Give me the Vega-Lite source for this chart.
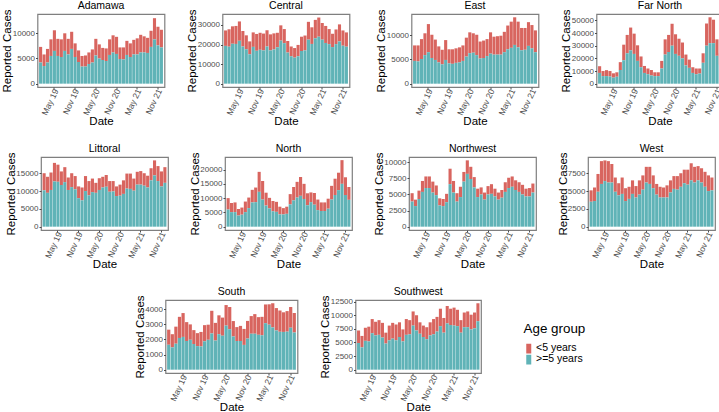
{"$schema":"https://vega.github.io/schema/vega-lite/v6.json","padding":{"left":0.5,"top":0,"right":0,"bottom":0},"background":"white",
"config":{"font":"Liberation Sans","view":{"stroke":"#7f7f7f","strokeWidth":1.2},"scale":{"bandPaddingInner":0.1,"bandPaddingOuter":0.45},"range":{"category":["#D8655F","#60B3B7"]},
"axis":{"grid":false,"domain":false,"labelColor":"#4D4D4D","labelFontSize":8,"tickColor":"#4D4D4D","tickSize":2,"labelPadding":1,"titleFontSize":11.5,"titleFontWeight":"normal","titleColor":"black","labelOverlap":false,"labelFlush":false},
"axisX":{"labelAngle":-65,"titlePadding":-1,"labelFontSize":8.5,"labelOffset":1.5,"labelPadding":0},"axisY":{"titlePadding":0},
"title":{"fontSize":10.5,"fontWeight":"normal","offset":-3,"color":"black"},
"legend":{"orient":"none","legendX":486,"legendY":308,"titleFontSize":13.4,"titleFontWeight":"normal","titleColor":"black","labelFontSize":10.5,"labelColor":"black","symbolType":"M-0.5,-1H0.5V1H-0.5Z","symbolSize":100,"symbolStrokeWidth":0,"rowPadding":0,"titlePadding":8,"labelOffset":2,"padding":0,"clipHeight":10}},
"spacing":15,
"datasets":{
"Adamawa":[{"date":"Jan 19","age":"<5 years","n":3100},{"date":"Jan 19","age":">=5 years","n":4200},{"date":"Feb 19","age":"<5 years","n":2300},{"date":"Feb 19","age":">=5 years","n":3500},{"date":"Mar 19","age":"<5 years","n":2700},{"date":"Mar 19","age":">=5 years","n":4200},{"date":"Apr 19","age":"<5 years","n":3300},{"date":"Apr 19","age":">=5 years","n":5500},{"date":"May 19","age":"<5 years","n":4100},{"date":"May 19","age":">=5 years","n":6500},{"date":"Jun 19","age":"<5 years","n":3400},{"date":"Jun 19","age":">=5 years","n":5500},{"date":"Jul 19","age":"<5 years","n":3500},{"date":"Jul 19","age":">=5 years","n":5300},{"date":"Aug 19","age":"<5 years","n":3500},{"date":"Aug 19","age":">=5 years","n":6500},{"date":"Sep 19","age":"<5 years","n":3100},{"date":"Sep 19","age":">=5 years","n":5800},{"date":"Oct 19","age":"<5 years","n":3400},{"date":"Oct 19","age":">=5 years","n":6900},{"date":"Nov 19","age":"<5 years","n":2700},{"date":"Nov 19","age":">=5 years","n":5300},{"date":"Dec 19","age":"<5 years","n":2300},{"date":"Dec 19","age":">=5 years","n":4300},{"date":"Jan 20","age":"<5 years","n":2100},{"date":"Jan 20","age":">=5 years","n":3400},{"date":"Feb 20","age":"<5 years","n":2200},{"date":"Feb 20","age":">=5 years","n":3400},{"date":"Mar 20","age":"<5 years","n":2300},{"date":"Mar 20","age":">=5 years","n":3900},{"date":"Apr 20","age":"<5 years","n":2600},{"date":"Apr 20","age":">=5 years","n":4200},{"date":"May 20","age":"<5 years","n":3300},{"date":"May 20","age":">=5 years","n":5600},{"date":"Jun 20","age":"<5 years","n":2800},{"date":"Jun 20","age":">=5 years","n":5000},{"date":"Jul 20","age":"<5 years","n":2400},{"date":"Jul 20","age":">=5 years","n":4700},{"date":"Aug 20","age":"<5 years","n":2500},{"date":"Aug 20","age":">=5 years","n":4500},{"date":"Sep 20","age":"<5 years","n":3100},{"date":"Sep 20","age":">=5 years","n":5700},{"date":"Oct 20","age":"<5 years","n":3400},{"date":"Oct 20","age":">=5 years","n":6200},{"date":"Nov 20","age":"<5 years","n":3400},{"date":"Nov 20","age":">=5 years","n":5900},{"date":"Dec 20","age":"<5 years","n":2300},{"date":"Dec 20","age":">=5 years","n":4900},{"date":"Jan 21","age":"<5 years","n":2400},{"date":"Jan 21","age":">=5 years","n":4800},{"date":"Feb 21","age":"<5 years","n":2800},{"date":"Feb 21","age":">=5 years","n":5700},{"date":"Mar 21","age":"<5 years","n":2700},{"date":"Mar 21","age":">=5 years","n":5300},{"date":"Apr 21","age":"<5 years","n":2900},{"date":"Apr 21","age":">=5 years","n":5800},{"date":"May 21","age":"<5 years","n":3200},{"date":"May 21","age":">=5 years","n":5800},{"date":"Jun 21","age":"<5 years","n":3500},{"date":"Jun 21","age":">=5 years","n":6200},{"date":"Jul 21","age":"<5 years","n":3200},{"date":"Jul 21","age":">=5 years","n":6200},{"date":"Aug 21","age":"<5 years","n":3000},{"date":"Aug 21","age":">=5 years","n":6100},{"date":"Sep 21","age":"<5 years","n":3200},{"date":"Sep 21","age":">=5 years","n":7300},{"date":"Oct 21","age":"<5 years","n":4200},{"date":"Oct 21","age":">=5 years","n":8800},{"date":"Nov 21","age":"<5 years","n":3700},{"date":"Nov 21","age":">=5 years","n":7600},{"date":"Dec 21","age":"<5 years","n":3500},{"date":"Dec 21","age":">=5 years","n":7200}],
"Central":[{"date":"Jan 19","age":"<5 years","n":7900},{"date":"Jan 19","age":">=5 years","n":19300},{"date":"Feb 19","age":"<5 years","n":8900},{"date":"Feb 19","age":">=5 years","n":18900},{"date":"Mar 19","age":"<5 years","n":8900},{"date":"Mar 19","age":">=5 years","n":20400},{"date":"Apr 19","age":"<5 years","n":9200},{"date":"Apr 19","age":">=5 years","n":20300},{"date":"May 19","age":"<5 years","n":9900},{"date":"May 19","age":">=5 years","n":21900},{"date":"Jun 19","age":"<5 years","n":7900},{"date":"Jun 19","age":">=5 years","n":19000},{"date":"Jul 19","age":"<5 years","n":7100},{"date":"Jul 19","age":">=5 years","n":17600},{"date":"Aug 19","age":"<5 years","n":6600},{"date":"Aug 19","age":">=5 years","n":15000},{"date":"Sep 19","age":"<5 years","n":7400},{"date":"Sep 19","age":">=5 years","n":18800},{"date":"Oct 19","age":"<5 years","n":8600},{"date":"Oct 19","age":">=5 years","n":16800},{"date":"Nov 19","age":"<5 years","n":8700},{"date":"Nov 19","age":">=5 years","n":17300},{"date":"Dec 19","age":"<5 years","n":8600},{"date":"Dec 19","age":">=5 years","n":17000},{"date":"Jan 20","age":"<5 years","n":8300},{"date":"Jan 20","age":">=5 years","n":19000},{"date":"Feb 20","age":"<5 years","n":8200},{"date":"Feb 20","age":">=5 years","n":17000},{"date":"Mar 20","age":"<5 years","n":8200},{"date":"Mar 20","age":">=5 years","n":17500},{"date":"Apr 20","age":"<5 years","n":7400},{"date":"Apr 20","age":">=5 years","n":18600},{"date":"May 20","age":"<5 years","n":7800},{"date":"May 20","age":">=5 years","n":22000},{"date":"Jun 20","age":"<5 years","n":7200},{"date":"Jun 20","age":">=5 years","n":20700},{"date":"Jul 20","age":"<5 years","n":5900},{"date":"Jul 20","age":">=5 years","n":15900},{"date":"Aug 20","age":"<5 years","n":5000},{"date":"Aug 20","age":">=5 years","n":14000},{"date":"Sep 20","age":"<5 years","n":4900},{"date":"Sep 20","age":">=5 years","n":13300},{"date":"Oct 20","age":"<5 years","n":5800},{"date":"Oct 20","age":">=5 years","n":14000},{"date":"Nov 20","age":"<5 years","n":7300},{"date":"Nov 20","age":">=5 years","n":16700},{"date":"Dec 20","age":"<5 years","n":7600},{"date":"Dec 20","age":">=5 years","n":17000},{"date":"Jan 21","age":"<5 years","n":9100},{"date":"Jan 21","age":">=5 years","n":22500},{"date":"Feb 21","age":"<5 years","n":8500},{"date":"Feb 21","age":">=5 years","n":20300},{"date":"Mar 21","age":"<5 years","n":9400},{"date":"Mar 21","age":">=5 years","n":23200},{"date":"Apr 21","age":"<5 years","n":9800},{"date":"Apr 21","age":">=5 years","n":24000},{"date":"May 21","age":"<5 years","n":8500},{"date":"May 21","age":">=5 years","n":22500},{"date":"Jun 21","age":"<5 years","n":8700},{"date":"Jun 21","age":">=5 years","n":20800},{"date":"Jul 21","age":"<5 years","n":7700},{"date":"Jul 21","age":">=5 years","n":20200},{"date":"Aug 21","age":"<5 years","n":6800},{"date":"Aug 21","age":">=5 years","n":18700},{"date":"Sep 21","age":"<5 years","n":7500},{"date":"Sep 21","age":">=5 years","n":20200},{"date":"Oct 21","age":"<5 years","n":8700},{"date":"Oct 21","age":">=5 years","n":21600},{"date":"Nov 21","age":"<5 years","n":7800},{"date":"Nov 21","age":">=5 years","n":19400},{"date":"Dec 21","age":"<5 years","n":7300},{"date":"Dec 21","age":">=5 years","n":18900}],
"East":[{"date":"Jan 19","age":"<5 years","n":3200},{"date":"Jan 19","age":">=5 years","n":4700},{"date":"Feb 19","age":"<5 years","n":3300},{"date":"Feb 19","age":">=5 years","n":4600},{"date":"Mar 19","age":"<5 years","n":4100},{"date":"Mar 19","age":">=5 years","n":5100},{"date":"Apr 19","age":"<5 years","n":4500},{"date":"Apr 19","age":">=5 years","n":5900},{"date":"May 19","age":"<5 years","n":5800},{"date":"May 19","age":">=5 years","n":6500},{"date":"Jun 19","age":"<5 years","n":4800},{"date":"Jun 19","age":">=5 years","n":5300},{"date":"Jul 19","age":"<5 years","n":4200},{"date":"Jul 19","age":">=5 years","n":4900},{"date":"Aug 19","age":"<5 years","n":3300},{"date":"Aug 19","age":">=5 years","n":4400},{"date":"Sep 19","age":"<5 years","n":3000},{"date":"Sep 19","age":">=5 years","n":4000},{"date":"Oct 19","age":"<5 years","n":4100},{"date":"Oct 19","age":">=5 years","n":4900},{"date":"Nov 19","age":"<5 years","n":2900},{"date":"Nov 19","age":">=5 years","n":4200},{"date":"Dec 19","age":"<5 years","n":3000},{"date":"Dec 19","age":">=5 years","n":4100},{"date":"Jan 20","age":"<5 years","n":3000},{"date":"Jan 20","age":">=5 years","n":4300},{"date":"Feb 20","age":"<5 years","n":3100},{"date":"Feb 20","age":">=5 years","n":4400},{"date":"Mar 20","age":"<5 years","n":3200},{"date":"Mar 20","age":">=5 years","n":4700},{"date":"Apr 20","age":"<5 years","n":3900},{"date":"Apr 20","age":">=5 years","n":5600},{"date":"May 20","age":"<5 years","n":4300},{"date":"May 20","age":">=5 years","n":6300},{"date":"Jun 20","age":"<5 years","n":4000},{"date":"Jun 20","age":">=5 years","n":6400},{"date":"Jul 20","age":"<5 years","n":4200},{"date":"Jul 20","age":">=5 years","n":5900},{"date":"Aug 20","age":"<5 years","n":3500},{"date":"Aug 20","age":">=5 years","n":5200},{"date":"Sep 20","age":"<5 years","n":3600},{"date":"Sep 20","age":">=5 years","n":5300},{"date":"Oct 20","age":"<5 years","n":3500},{"date":"Oct 20","age":">=5 years","n":5700},{"date":"Nov 20","age":"<5 years","n":4400},{"date":"Nov 20","age":">=5 years","n":6200},{"date":"Dec 20","age":"<5 years","n":3700},{"date":"Dec 20","age":">=5 years","n":6000},{"date":"Jan 21","age":"<5 years","n":3800},{"date":"Jan 21","age":">=5 years","n":6000},{"date":"Feb 21","age":"<5 years","n":3900},{"date":"Feb 21","age":">=5 years","n":6000},{"date":"Mar 21","age":"<5 years","n":4200},{"date":"Mar 21","age":">=5 years","n":6500},{"date":"Apr 21","age":"<5 years","n":4900},{"date":"Apr 21","age":">=5 years","n":7100},{"date":"May 21","age":"<5 years","n":5400},{"date":"May 21","age":">=5 years","n":7400},{"date":"Jun 21","age":"<5 years","n":5700},{"date":"Jun 21","age":">=5 years","n":8000},{"date":"Jul 21","age":"<5 years","n":5300},{"date":"Jul 21","age":">=5 years","n":7500},{"date":"Aug 21","age":"<5 years","n":4600},{"date":"Aug 21","age":">=5 years","n":6900},{"date":"Sep 21","age":"<5 years","n":4500},{"date":"Sep 21","age":">=5 years","n":7000},{"date":"Oct 21","age":"<5 years","n":4900},{"date":"Oct 21","age":">=5 years","n":7800},{"date":"Nov 21","age":"<5 years","n":4800},{"date":"Nov 21","age":">=5 years","n":7300},{"date":"Dec 21","age":"<5 years","n":4500},{"date":"Dec 21","age":">=5 years","n":6500}],
"Far North":[{"date":"Jan 19","age":"<5 years","n":5300},{"date":"Jan 19","age":">=5 years","n":8500},{"date":"Feb 19","age":"<5 years","n":4000},{"date":"Feb 19","age":">=5 years","n":6000},{"date":"Mar 19","age":"<5 years","n":4700},{"date":"Mar 19","age":">=5 years","n":6000},{"date":"Apr 19","age":"<5 years","n":4300},{"date":"Apr 19","age":">=5 years","n":5700},{"date":"May 19","age":"<5 years","n":3400},{"date":"May 19","age":">=5 years","n":4800},{"date":"Jun 19","age":"<5 years","n":3500},{"date":"Jun 19","age":">=5 years","n":5500},{"date":"Jul 19","age":"<5 years","n":6200},{"date":"Jul 19","age":">=5 years","n":10800},{"date":"Aug 19","age":"<5 years","n":12300},{"date":"Aug 19","age":">=5 years","n":18500},{"date":"Sep 19","age":"<5 years","n":14500},{"date":"Sep 19","age":">=5 years","n":24000},{"date":"Oct 19","age":"<5 years","n":18000},{"date":"Oct 19","age":">=5 years","n":26300},{"date":"Nov 19","age":"<5 years","n":16000},{"date":"Nov 19","age":">=5 years","n":23500},{"date":"Dec 19","age":"<5 years","n":12300},{"date":"Dec 19","age":">=5 years","n":18000},{"date":"Jan 20","age":"<5 years","n":8500},{"date":"Jan 20","age":">=5 years","n":13000},{"date":"Feb 20","age":"<5 years","n":5500},{"date":"Feb 20","age":">=5 years","n":8500},{"date":"Mar 20","age":"<5 years","n":4500},{"date":"Mar 20","age":">=5 years","n":7500},{"date":"Apr 20","age":"<5 years","n":4300},{"date":"Apr 20","age":">=5 years","n":6500},{"date":"May 20","age":"<5 years","n":3000},{"date":"May 20","age":">=5 years","n":6000},{"date":"Jun 20","age":"<5 years","n":3000},{"date":"Jun 20","age":">=5 years","n":6000},{"date":"Jul 20","age":"<5 years","n":6000},{"date":"Jul 20","age":">=5 years","n":12000},{"date":"Aug 20","age":"<5 years","n":12000},{"date":"Aug 20","age":">=5 years","n":23000},{"date":"Sep 20","age":"<5 years","n":13500},{"date":"Sep 20","age":">=5 years","n":25000},{"date":"Oct 20","age":"<5 years","n":17300},{"date":"Oct 20","age":">=5 years","n":30000},{"date":"Nov 20","age":"<5 years","n":15500},{"date":"Nov 20","age":">=5 years","n":23500},{"date":"Dec 20","age":"<5 years","n":13500},{"date":"Dec 20","age":">=5 years","n":22000},{"date":"Jan 21","age":"<5 years","n":12500},{"date":"Jan 21","age":">=5 years","n":20000},{"date":"Feb 21","age":"<5 years","n":8500},{"date":"Feb 21","age":">=5 years","n":14500},{"date":"Mar 21","age":"<5 years","n":6500},{"date":"Mar 21","age":">=5 years","n":12500},{"date":"Apr 21","age":"<5 years","n":4500},{"date":"Apr 21","age":">=5 years","n":8500},{"date":"May 21","age":"<5 years","n":4500},{"date":"May 21","age":">=5 years","n":7500},{"date":"Jun 21","age":"<5 years","n":4000},{"date":"Jun 21","age":">=5 years","n":8000},{"date":"Jul 21","age":"<5 years","n":7500},{"date":"Jul 21","age":">=5 years","n":16500},{"date":"Aug 21","age":"<5 years","n":17500},{"date":"Aug 21","age":">=5 years","n":30000},{"date":"Sep 21","age":"<5 years","n":20400},{"date":"Sep 21","age":">=5 years","n":32000},{"date":"Oct 21","age":"<5 years","n":18500},{"date":"Oct 21","age":">=5 years","n":32000},{"date":"Nov 21","age":"<5 years","n":13000},{"date":"Nov 21","age":">=5 years","n":22000},{"date":"Dec 21","age":"<5 years","n":9000},{"date":"Dec 21","age":">=5 years","n":15000}],
"Littoral":[{"date":"Jan 19","age":"<5 years","n":4800},{"date":"Jan 19","age":">=5 years","n":10200},{"date":"Feb 19","age":"<5 years","n":4500},{"date":"Feb 19","age":">=5 years","n":9500},{"date":"Mar 19","age":"<5 years","n":4900},{"date":"Mar 19","age":">=5 years","n":10300},{"date":"Apr 19","age":"<5 years","n":5200},{"date":"Apr 19","age":">=5 years","n":12700},{"date":"May 19","age":"<5 years","n":4800},{"date":"May 19","age":">=5 years","n":12600},{"date":"Jun 19","age":"<5 years","n":3800},{"date":"Jun 19","age":">=5 years","n":11700},{"date":"Jul 19","age":"<5 years","n":4200},{"date":"Jul 19","age":">=5 years","n":12500},{"date":"Aug 19","age":"<5 years","n":3500},{"date":"Aug 19","age":">=5 years","n":10300},{"date":"Sep 19","age":"<5 years","n":3900},{"date":"Sep 19","age":">=5 years","n":11100},{"date":"Oct 19","age":"<5 years","n":3700},{"date":"Oct 19","age":">=5 years","n":10500},{"date":"Nov 19","age":"<5 years","n":3300},{"date":"Nov 19","age":">=5 years","n":8000},{"date":"Dec 19","age":"<5 years","n":3600},{"date":"Dec 19","age":">=5 years","n":7400},{"date":"Jan 20","age":"<5 years","n":4200},{"date":"Jan 20","age":">=5 years","n":10000},{"date":"Feb 20","age":"<5 years","n":4000},{"date":"Feb 20","age":">=5 years","n":8800},{"date":"Mar 20","age":"<5 years","n":3800},{"date":"Mar 20","age":">=5 years","n":9700},{"date":"Apr 20","age":"<5 years","n":2800},{"date":"Apr 20","age":">=5 years","n":9500},{"date":"May 20","age":"<5 years","n":3300},{"date":"May 20","age":">=5 years","n":10300},{"date":"Jun 20","age":"<5 years","n":3000},{"date":"Jun 20","age":">=5 years","n":11000},{"date":"Jul 20","age":"<5 years","n":3300},{"date":"Jul 20","age":">=5 years","n":11200},{"date":"Aug 20","age":"<5 years","n":3000},{"date":"Aug 20","age":">=5 years","n":9800},{"date":"Sep 20","age":"<5 years","n":2900},{"date":"Sep 20","age":">=5 years","n":9900},{"date":"Oct 20","age":"<5 years","n":2700},{"date":"Oct 20","age":">=5 years","n":8600},{"date":"Nov 20","age":"<5 years","n":3100},{"date":"Nov 20","age":">=5 years","n":8700},{"date":"Dec 20","age":"<5 years","n":3800},{"date":"Dec 20","age":">=5 years","n":9200},{"date":"Jan 21","age":"<5 years","n":4200},{"date":"Jan 21","age":">=5 years","n":10700},{"date":"Feb 21","age":"<5 years","n":4300},{"date":"Feb 21","age":">=5 years","n":10600},{"date":"Mar 21","age":"<5 years","n":3400},{"date":"Mar 21","age":">=5 years","n":10100},{"date":"Apr 21","age":"<5 years","n":3600},{"date":"Apr 21","age":">=5 years","n":11800},{"date":"May 21","age":"<5 years","n":3800},{"date":"May 21","age":">=5 years","n":11800},{"date":"Jun 21","age":"<5 years","n":3500},{"date":"Jun 21","age":">=5 years","n":11500},{"date":"Jul 21","age":"<5 years","n":3300},{"date":"Jul 21","age":">=5 years","n":11000},{"date":"Aug 21","age":"<5 years","n":3400},{"date":"Aug 21","age":">=5 years","n":13000},{"date":"Sep 21","age":"<5 years","n":4200},{"date":"Sep 21","age":">=5 years","n":14400},{"date":"Oct 21","age":"<5 years","n":4200},{"date":"Oct 21","age":">=5 years","n":12800},{"date":"Nov 21","age":"<5 years","n":4200},{"date":"Nov 21","age":">=5 years","n":11300},{"date":"Dec 21","age":"<5 years","n":4400},{"date":"Dec 21","age":">=5 years","n":12300}],
"North":[{"date":"Jan 19","age":"<5 years","n":4000},{"date":"Jan 19","age":">=5 years","n":6000},{"date":"Feb 19","age":"<5 years","n":3200},{"date":"Feb 19","age":">=5 years","n":5100},{"date":"Mar 19","age":"<5 years","n":3400},{"date":"Mar 19","age":">=5 years","n":5100},{"date":"Apr 19","age":"<5 years","n":2300},{"date":"Apr 19","age":">=5 years","n":3900},{"date":"May 19","age":"<5 years","n":2500},{"date":"May 19","age":">=5 years","n":4200},{"date":"Jun 19","age":"<5 years","n":3700},{"date":"Jun 19","age":">=5 years","n":5100},{"date":"Jul 19","age":"<5 years","n":3700},{"date":"Jul 19","age":">=5 years","n":6500},{"date":"Aug 19","age":"<5 years","n":4400},{"date":"Aug 19","age":">=5 years","n":8500},{"date":"Sep 19","age":"<5 years","n":5100},{"date":"Sep 19","age":">=5 years","n":8600},{"date":"Oct 19","age":"<5 years","n":7000},{"date":"Oct 19","age":">=5 years","n":12200},{"date":"Nov 19","age":"<5 years","n":6500},{"date":"Nov 19","age":">=5 years","n":9500},{"date":"Dec 19","age":"<5 years","n":4500},{"date":"Dec 19","age":">=5 years","n":7400},{"date":"Jan 20","age":"<5 years","n":3700},{"date":"Jan 20","age":">=5 years","n":6400},{"date":"Feb 20","age":"<5 years","n":3600},{"date":"Feb 20","age":">=5 years","n":5400},{"date":"Mar 20","age":"<5 years","n":3500},{"date":"Mar 20","age":">=5 years","n":5200},{"date":"Apr 20","age":"<5 years","n":2700},{"date":"Apr 20","age":">=5 years","n":4300},{"date":"May 20","age":"<5 years","n":2200},{"date":"May 20","age":">=5 years","n":4300},{"date":"Jun 20","age":"<5 years","n":2500},{"date":"Jun 20","age":">=5 years","n":4500},{"date":"Jul 20","age":"<5 years","n":3600},{"date":"Jul 20","age":">=5 years","n":7800},{"date":"Aug 20","age":"<5 years","n":4700},{"date":"Aug 20","age":">=5 years","n":9200},{"date":"Sep 20","age":"<5 years","n":5500},{"date":"Sep 20","age":">=5 years","n":10200},{"date":"Oct 20","age":"<5 years","n":6600},{"date":"Oct 20","age":">=5 years","n":10800},{"date":"Nov 20","age":"<5 years","n":5300},{"date":"Nov 20","age":">=5 years","n":9700},{"date":"Dec 20","age":"<5 years","n":4200},{"date":"Dec 20","age":">=5 years","n":7500},{"date":"Jan 21","age":"<5 years","n":3400},{"date":"Jan 21","age":">=5 years","n":8600},{"date":"Feb 21","age":"<5 years","n":4100},{"date":"Feb 21","age":">=5 years","n":7700},{"date":"Mar 21","age":"<5 years","n":3700},{"date":"Mar 21","age":">=5 years","n":5800},{"date":"Apr 21","age":"<5 years","n":3000},{"date":"Apr 21","age":">=5 years","n":5500},{"date":"May 21","age":"<5 years","n":3000},{"date":"May 21","age":">=5 years","n":5500},{"date":"Jun 21","age":"<5 years","n":3500},{"date":"Jun 21","age":">=5 years","n":6300},{"date":"Jul 21","age":"<5 years","n":4800},{"date":"Jul 21","age":">=5 years","n":9500},{"date":"Aug 21","age":"<5 years","n":5700},{"date":"Aug 21","age":">=5 years","n":11100},{"date":"Sep 21","age":"<5 years","n":6100},{"date":"Sep 21","age":">=5 years","n":12800},{"date":"Oct 21","age":"<5 years","n":8300},{"date":"Oct 21","age":">=5 years","n":15000},{"date":"Nov 21","age":"<5 years","n":6200},{"date":"Nov 21","age":">=5 years","n":11100},{"date":"Dec 21","age":"<5 years","n":4500},{"date":"Dec 21","age":">=5 years","n":9400}],
"Northwest":[{"date":"Jan 19","age":"<5 years","n":1300},{"date":"Jan 19","age":">=5 years","n":3900},{"date":"Feb 19","age":"<5 years","n":1000},{"date":"Feb 19","age":">=5 years","n":3200},{"date":"Mar 19","age":"<5 years","n":1300},{"date":"Mar 19","age":">=5 years","n":4300},{"date":"Apr 19","age":"<5 years","n":1700},{"date":"Apr 19","age":">=5 years","n":5400},{"date":"May 19","age":"<5 years","n":1800},{"date":"May 19","age":">=5 years","n":6000},{"date":"Jun 19","age":"<5 years","n":1800},{"date":"Jun 19","age":">=5 years","n":6000},{"date":"Jul 19","age":"<5 years","n":1700},{"date":"Jul 19","age":">=5 years","n":5300},{"date":"Aug 19","age":"<5 years","n":1500},{"date":"Aug 19","age":">=5 years","n":4900},{"date":"Sep 19","age":"<5 years","n":1100},{"date":"Sep 19","age":">=5 years","n":3300},{"date":"Oct 19","age":"<5 years","n":1100},{"date":"Oct 19","age":">=5 years","n":3200},{"date":"Nov 19","age":"<5 years","n":1300},{"date":"Nov 19","age":">=5 years","n":3800},{"date":"Dec 19","age":"<5 years","n":2400},{"date":"Dec 19","age":">=5 years","n":6600},{"date":"Jan 20","age":"<5 years","n":1800},{"date":"Jan 20","age":">=5 years","n":5300},{"date":"Feb 20","age":"<5 years","n":1300},{"date":"Feb 20","age":">=5 years","n":3900},{"date":"Mar 20","age":"<5 years","n":1600},{"date":"Mar 20","age":">=5 years","n":4600},{"date":"Apr 20","age":"<5 years","n":1500},{"date":"Apr 20","age":">=5 years","n":7000},{"date":"May 20","age":"<5 years","n":2100},{"date":"May 20","age":">=5 years","n":8200},{"date":"Jun 20","age":"<5 years","n":1900},{"date":"Jun 20","age":">=5 years","n":7400},{"date":"Jul 20","age":"<5 years","n":1600},{"date":"Jul 20","age":">=5 years","n":6100},{"date":"Aug 20","age":"<5 years","n":1300},{"date":"Aug 20","age":">=5 years","n":4600},{"date":"Sep 20","age":"<5 years","n":1100},{"date":"Sep 20","age":">=5 years","n":5000},{"date":"Oct 20","age":"<5 years","n":1100},{"date":"Oct 20","age":">=5 years","n":4200},{"date":"Nov 20","age":"<5 years","n":1300},{"date":"Nov 20","age":">=5 years","n":5000},{"date":"Dec 20","age":"<5 years","n":1500},{"date":"Dec 20","age":">=5 years","n":5100},{"date":"Jan 21","age":"<5 years","n":1200},{"date":"Jan 21","age":">=5 years","n":4700},{"date":"Feb 21","age":"<5 years","n":1100},{"date":"Feb 21","age":">=5 years","n":4200},{"date":"Mar 21","age":"<5 years","n":1200},{"date":"Mar 21","age":">=5 years","n":4500},{"date":"Apr 21","age":"<5 years","n":1500},{"date":"Apr 21","age":">=5 years","n":5400},{"date":"May 21","age":"<5 years","n":1600},{"date":"May 21","age":">=5 years","n":6000},{"date":"Jun 21","age":"<5 years","n":1600},{"date":"Jun 21","age":">=5 years","n":6200},{"date":"Jul 21","age":"<5 years","n":1500},{"date":"Jul 21","age":">=5 years","n":5700},{"date":"Aug 21","age":"<5 years","n":1500},{"date":"Aug 21","age":">=5 years","n":5400},{"date":"Sep 21","age":"<5 years","n":1500},{"date":"Sep 21","age":">=5 years","n":5000},{"date":"Oct 21","age":"<5 years","n":1200},{"date":"Oct 21","age":">=5 years","n":4700},{"date":"Nov 21","age":"<5 years","n":1300},{"date":"Nov 21","age":">=5 years","n":4700},{"date":"Dec 21","age":"<5 years","n":1400},{"date":"Dec 21","age":">=5 years","n":5300}],
"West":[{"date":"Jan 19","age":"<5 years","n":1600},{"date":"Jan 19","age":">=5 years","n":3500},{"date":"Feb 19","age":"<5 years","n":1900},{"date":"Feb 19","age":">=5 years","n":3600},{"date":"Mar 19","age":"<5 years","n":2500},{"date":"Mar 19","age":">=5 years","n":4900},{"date":"Apr 19","age":"<5 years","n":3200},{"date":"Apr 19","age":">=5 years","n":6000},{"date":"May 19","age":"<5 years","n":2900},{"date":"May 19","age":">=5 years","n":6400},{"date":"Jun 19","age":"<5 years","n":3000},{"date":"Jun 19","age":">=5 years","n":6200},{"date":"Jul 19","age":"<5 years","n":2600},{"date":"Jul 19","age":">=5 years","n":6200},{"date":"Aug 19","age":"<5 years","n":2000},{"date":"Aug 19","age":">=5 years","n":4900},{"date":"Sep 19","age":"<5 years","n":1700},{"date":"Sep 19","age":">=5 years","n":4400},{"date":"Oct 19","age":"<5 years","n":2300},{"date":"Oct 19","age":">=5 years","n":4600},{"date":"Nov 19","age":"<5 years","n":1800},{"date":"Nov 19","age":">=5 years","n":3600},{"date":"Dec 19","age":"<5 years","n":1700},{"date":"Dec 19","age":">=5 years","n":3900},{"date":"Jan 20","age":"<5 years","n":1900},{"date":"Jan 20","age":">=5 years","n":4600},{"date":"Feb 20","age":"<5 years","n":1600},{"date":"Feb 20","age":">=5 years","n":4100},{"date":"Mar 20","age":"<5 years","n":2000},{"date":"Mar 20","age":">=5 years","n":4500},{"date":"Apr 20","age":"<5 years","n":2000},{"date":"Apr 20","age":">=5 years","n":5200},{"date":"May 20","age":"<5 years","n":2200},{"date":"May 20","age":">=5 years","n":6200},{"date":"Jun 20","age":"<5 years","n":2400},{"date":"Jun 20","age":">=5 years","n":6000},{"date":"Jul 20","age":"<5 years","n":1800},{"date":"Jul 20","age":">=5 years","n":5400},{"date":"Aug 20","age":"<5 years","n":1500},{"date":"Aug 20","age":">=5 years","n":4500},{"date":"Sep 20","age":"<5 years","n":1500},{"date":"Sep 20","age":">=5 years","n":4100},{"date":"Oct 20","age":"<5 years","n":1400},{"date":"Oct 20","age":">=5 years","n":4100},{"date":"Nov 20","age":"<5 years","n":1700},{"date":"Nov 20","age":">=5 years","n":4100},{"date":"Dec 20","age":"<5 years","n":1700},{"date":"Dec 20","age":">=5 years","n":4800},{"date":"Jan 21","age":"<5 years","n":1800},{"date":"Jan 21","age":">=5 years","n":5300},{"date":"Feb 21","age":"<5 years","n":1900},{"date":"Feb 21","age":">=5 years","n":5200},{"date":"Mar 21","age":"<5 years","n":1900},{"date":"Mar 21","age":">=5 years","n":5600},{"date":"Apr 21","age":"<5 years","n":1900},{"date":"Apr 21","age":">=5 years","n":6100},{"date":"May 21","age":"<5 years","n":2100},{"date":"May 21","age":">=5 years","n":5900},{"date":"Jun 21","age":"<5 years","n":2400},{"date":"Jun 21","age":">=5 years","n":6500},{"date":"Jul 21","age":"<5 years","n":2200},{"date":"Jul 21","age":">=5 years","n":6200},{"date":"Aug 21","age":"<5 years","n":2000},{"date":"Aug 21","age":">=5 years","n":6500},{"date":"Sep 21","age":"<5 years","n":2000},{"date":"Sep 21","age":">=5 years","n":6200},{"date":"Oct 21","age":"<5 years","n":2100},{"date":"Oct 21","age":">=5 years","n":5600},{"date":"Nov 21","age":"<5 years","n":2200},{"date":"Nov 21","age":">=5 years","n":5000},{"date":"Dec 21","age":"<5 years","n":1800},{"date":"Dec 21","age":">=5 years","n":5100}],
"South":[{"date":"Jan 19","age":"<5 years","n":1000},{"date":"Jan 19","age":">=5 years","n":1650},{"date":"Feb 19","age":"<5 years","n":870},{"date":"Feb 19","age":">=5 years","n":1480},{"date":"Mar 19","age":"<5 years","n":1130},{"date":"Mar 19","age":">=5 years","n":1720},{"date":"Apr 19","age":"<5 years","n":1400},{"date":"Apr 19","age":">=5 years","n":2100},{"date":"May 19","age":"<5 years","n":1580},{"date":"May 19","age":">=5 years","n":2170},{"date":"Jun 19","age":"<5 years","n":1250},{"date":"Jun 19","age":">=5 years","n":1900},{"date":"Jul 19","age":"<5 years","n":1020},{"date":"Jul 19","age":">=5 years","n":1980},{"date":"Aug 19","age":"<5 years","n":920},{"date":"Aug 19","age":">=5 years","n":1700},{"date":"Sep 19","age":"<5 years","n":860},{"date":"Sep 19","age":">=5 years","n":1560},{"date":"Oct 19","age":"<5 years","n":960},{"date":"Oct 19","age":">=5 years","n":1540},{"date":"Nov 19","age":"<5 years","n":1070},{"date":"Nov 19","age":">=5 years","n":1880},{"date":"Dec 19","age":"<5 years","n":1000},{"date":"Dec 19","age":">=5 years","n":1980},{"date":"Jan 20","age":"<5 years","n":1500},{"date":"Jan 20","age":">=5 years","n":2400},{"date":"Feb 20","age":"<5 years","n":1170},{"date":"Feb 20","age":">=5 years","n":1930},{"date":"Mar 20","age":"<5 years","n":1250},{"date":"Mar 20","age":">=5 years","n":2350},{"date":"Apr 20","age":"<5 years","n":1200},{"date":"Apr 20","age":">=5 years","n":2250},{"date":"May 20","age":"<5 years","n":1360},{"date":"May 20","age":">=5 years","n":2920},{"date":"Jun 20","age":"<5 years","n":1470},{"date":"Jun 20","age":">=5 years","n":2680},{"date":"Jul 20","age":"<5 years","n":1020},{"date":"Jul 20","age":">=5 years","n":2200},{"date":"Aug 20","age":"<5 years","n":920},{"date":"Aug 20","age":">=5 years","n":1900},{"date":"Sep 20","age":"<5 years","n":1000},{"date":"Sep 20","age":">=5 years","n":1900},{"date":"Oct 20","age":"<5 years","n":1060},{"date":"Oct 20","age":">=5 years","n":1640},{"date":"Nov 20","age":"<5 years","n":1170},{"date":"Nov 20","age":">=5 years","n":2060},{"date":"Dec 20","age":"<5 years","n":1170},{"date":"Dec 20","age":">=5 years","n":2380},{"date":"Jan 21","age":"<5 years","n":1300},{"date":"Jan 21","age":">=5 years","n":2380},{"date":"Feb 21","age":"<5 years","n":1170},{"date":"Feb 21","age":">=5 years","n":2310},{"date":"Mar 21","age":"<5 years","n":1220},{"date":"Mar 21","age":">=5 years","n":2280},{"date":"Apr 21","age":"<5 years","n":1240},{"date":"Apr 21","age":">=5 years","n":3080},{"date":"May 21","age":"<5 years","n":1350},{"date":"May 21","age":">=5 years","n":2980},{"date":"Jun 21","age":"<5 years","n":1600},{"date":"Jun 21","age":">=5 years","n":2800},{"date":"Jul 21","age":"<5 years","n":1480},{"date":"Jul 21","age":">=5 years","n":2600},{"date":"Aug 21","age":"<5 years","n":1410},{"date":"Aug 21","age":">=5 years","n":2510},{"date":"Sep 21","age":"<5 years","n":1300},{"date":"Sep 21","age":">=5 years","n":2500},{"date":"Oct 21","age":"<5 years","n":1360},{"date":"Oct 21","age":">=5 years","n":2520},{"date":"Nov 21","age":"<5 years","n":1370},{"date":"Nov 21","age":">=5 years","n":2780},{"date":"Dec 21","age":"<5 years","n":1290},{"date":"Dec 21","age":">=5 years","n":2460}],
"Southwest":[{"date":"Jan 19","age":"<5 years","n":2300},{"date":"Jan 19","age":">=5 years","n":4900},{"date":"Feb 19","age":"<5 years","n":2100},{"date":"Feb 19","age":">=5 years","n":4100},{"date":"Mar 19","age":"<5 years","n":2400},{"date":"Mar 19","age":">=5 years","n":5300},{"date":"Apr 19","age":"<5 years","n":2700},{"date":"Apr 19","age":">=5 years","n":5200},{"date":"May 19","age":"<5 years","n":2600},{"date":"May 19","age":">=5 years","n":6700},{"date":"Jun 19","age":"<5 years","n":2500},{"date":"Jun 19","age":">=5 years","n":6300},{"date":"Jul 19","age":"<5 years","n":2700},{"date":"Jul 19","age":">=5 years","n":6400},{"date":"Aug 19","age":"<5 years","n":2700},{"date":"Aug 19","age":">=5 years","n":5900},{"date":"Sep 19","age":"<5 years","n":2000},{"date":"Sep 19","age":">=5 years","n":4800},{"date":"Oct 19","age":"<5 years","n":2700},{"date":"Oct 19","age":">=5 years","n":5400},{"date":"Nov 19","age":"<5 years","n":2900},{"date":"Nov 19","age":">=5 years","n":5700},{"date":"Dec 19","age":"<5 years","n":2900},{"date":"Dec 19","age":">=5 years","n":5400},{"date":"Jan 20","age":"<5 years","n":2700},{"date":"Jan 20","age":">=5 years","n":6000},{"date":"Feb 20","age":"<5 years","n":2200},{"date":"Feb 20","age":">=5 years","n":5200},{"date":"Mar 20","age":"<5 years","n":2900},{"date":"Mar 20","age":">=5 years","n":6400},{"date":"Apr 20","age":"<5 years","n":2600},{"date":"Apr 20","age":">=5 years","n":6500},{"date":"May 20","age":"<5 years","n":2600},{"date":"May 20","age":">=5 years","n":8100},{"date":"Jun 20","age":"<5 years","n":2800},{"date":"Jun 20","age":">=5 years","n":7200},{"date":"Jul 20","age":"<5 years","n":2100},{"date":"Jul 20","age":">=5 years","n":6600},{"date":"Aug 20","age":"<5 years","n":2100},{"date":"Aug 20","age":">=5 years","n":6000},{"date":"Sep 20","age":"<5 years","n":2200},{"date":"Sep 20","age":">=5 years","n":5600},{"date":"Oct 20","age":"<5 years","n":2400},{"date":"Oct 20","age":">=5 years","n":6300},{"date":"Nov 20","age":"<5 years","n":2800},{"date":"Nov 20","age":">=5 years","n":6500},{"date":"Dec 20","age":"<5 years","n":2700},{"date":"Dec 20","age":">=5 years","n":7000},{"date":"Jan 21","age":"<5 years","n":3200},{"date":"Jan 21","age":">=5 years","n":8000},{"date":"Feb 21","age":"<5 years","n":2700},{"date":"Feb 21","age":">=5 years","n":6800},{"date":"Mar 21","age":"<5 years","n":3200},{"date":"Mar 21","age":">=5 years","n":8500},{"date":"Apr 21","age":"<5 years","n":3000},{"date":"Apr 21","age":">=5 years","n":8200},{"date":"May 21","age":"<5 years","n":3300},{"date":"May 21","age":">=5 years","n":8100},{"date":"Jun 21","age":"<5 years","n":3000},{"date":"Jun 21","age":">=5 years","n":8000},{"date":"Jul 21","age":"<5 years","n":2300},{"date":"Jul 21","age":">=5 years","n":6800},{"date":"Aug 21","age":"<5 years","n":2700},{"date":"Aug 21","age":">=5 years","n":7800},{"date":"Sep 21","age":"<5 years","n":2900},{"date":"Sep 21","age":">=5 years","n":7800},{"date":"Oct 21","age":"<5 years","n":2700},{"date":"Oct 21","age":">=5 years","n":7400},{"date":"Nov 21","age":"<5 years","n":2900},{"date":"Nov 21","age":">=5 years","n":7600},{"date":"Dec 21","age":"<5 years","n":3300},{"date":"Dec 21","age":">=5 years","n":8900}]
},
"vconcat":[
{"hconcat":[
{"spacing":20,"hconcat":[
{"title":"Adamawa","data":{"name":"Adamawa"},"width":127,"height":73,"mark":"bar","encoding":{"x":{"field":"date","type":"ordinal","sort":null,"title":"Date","axis":{"values":["May 19","Nov 19","May 20","Nov 20","May 21","Nov 21"]}},"y":{"field":"n","type":"quantitative","title":"Reported Cases","scale":{"domain":[-660,13830],"nice":false,"zero":false},"axis":{"values":[0,5000,10000],"format":"d","minExtent":25,"maxExtent":25}},"color":{"field":"age","type":"nominal","title":"Age group"}}},
{"title":"Central","data":{"name":"Central"},"width":127,"height":73,"mark":"bar","encoding":{"x":{"field":"date","type":"ordinal","sort":null,"title":"Date","axis":{"values":["May 19","Nov 19","May 20","Nov 20","May 21","Nov 21"]}},"y":{"field":"n","type":"quantitative","title":"Reported Cases","scale":{"domain":[-1700,35600],"nice":false,"zero":false},"axis":{"values":[0,10000,20000,30000],"format":"d","minExtent":25,"maxExtent":25}},"color":{"field":"age","type":"nominal","title":"Age group"}}}
]},
{"spacing":20,"hconcat":[
{"title":"East","data":{"name":"East"},"width":127,"height":73,"mark":"bar","encoding":{"x":{"field":"date","type":"ordinal","sort":null,"title":"Date","axis":{"values":["May 19","Nov 19","May 20","Nov 20","May 21","Nov 21"]}},"y":{"field":"n","type":"quantitative","title":"Reported Cases","scale":{"domain":[-680,14380],"nice":false,"zero":false},"axis":{"values":[0,5000,10000],"format":"d","minExtent":25,"maxExtent":25}},"color":{"field":"age","type":"nominal","title":"Age group"}}},
{"title":"Far North","data":{"name":"Far North"},"width":127,"height":73,"mark":"bar","encoding":{"x":{"field":"date","type":"ordinal","sort":null,"title":"Date","axis":{"values":["May 19","Nov 19","May 20","Nov 20","May 21","Nov 21"]}},"y":{"field":"n","type":"quantitative","title":"Reported Cases","scale":{"domain":[-2600,55000],"nice":false,"zero":false},"axis":{"values":[0,10000,20000,30000,40000,50000],"format":"d","minExtent":25,"maxExtent":25}},"color":{"field":"age","type":"nominal","title":"Age group"}}}
]}
],"spacing":24},
{"spacing":-34.5,"hconcat":[
{"data":{"values":[]},"width":1,"height":1,"mark":"rect","encoding":{},"view":{"stroke":null}},
{"spacing":19,"hconcat":[
{"title":"Littoral","data":{"name":"Littoral"},"width":127,"height":73,"mark":"bar","encoding":{"x":{"field":"date","type":"ordinal","sort":null,"title":"Date","axis":{"values":["May 19","Nov 19","May 20","Nov 20","May 21","Nov 21"]}},"y":{"field":"n","type":"quantitative","title":"Reported Cases","scale":{"domain":[-930,19550],"nice":false,"zero":false},"axis":{"values":[0,5000,10000,15000],"format":"d","minExtent":25,"maxExtent":25}},"color":{"field":"age","type":"nominal","title":"Age group"}}},
{"title":"North","data":{"name":"North"},"width":127,"height":73,"mark":"bar","encoding":{"x":{"field":"date","type":"ordinal","sort":null,"title":"Date","axis":{"values":["May 19","Nov 19","May 20","Nov 20","May 21","Nov 21"]}},"y":{"field":"n","type":"quantitative","title":"Reported Cases","scale":{"domain":[-1160,24400],"nice":false,"zero":false},"axis":{"values":[0,5000,10000,15000,20000],"format":"d","minExtent":25,"maxExtent":25}},"color":{"field":"age","type":"nominal","title":"Age group"}}},
{"title":"Northwest","data":{"name":"Northwest"},"width":127,"height":73,"mark":"bar","encoding":{"x":{"field":"date","type":"ordinal","sort":null,"title":"Date","axis":{"values":["May 19","Nov 19","May 20","Nov 20","May 21","Nov 21"]}},"y":{"field":"n","type":"quantitative","title":"Reported Cases","scale":{"domain":[-515,10820],"nice":false,"zero":false},"axis":{"values":[0,2500,5000,7500,10000],"format":"d","minExtent":25,"maxExtent":25}},"color":{"field":"age","type":"nominal","title":"Age group"}}},
{"title":"West","data":{"name":"West"},"width":127,"height":73,"mark":"bar","encoding":{"x":{"field":"date","type":"ordinal","sort":null,"title":"Date","axis":{"values":["May 19","Nov 19","May 20","Nov 20","May 21","Nov 21"]}},"y":{"field":"n","type":"quantitative","title":"Reported Cases","scale":{"domain":[-465,9780],"nice":false,"zero":false},"axis":{"values":[0,2500,5000,7500],"format":"d","minExtent":20,"maxExtent":20}},"color":{"field":"age","type":"nominal","title":"Age group"}}}
]}
]},
{"spacing":20,"hconcat":[
{"data":{"values":[]},"width":75.5,"height":1,"mark":"rect","encoding":{},"view":{"stroke":null}},
{"title":"South","data":{"name":"South"},"width":132,"height":73,"mark":"bar","encoding":{"x":{"field":"date","type":"ordinal","sort":null,"title":"Date","axis":{"values":["May 19","Nov 19","May 20","Nov 20","May 21","Nov 21"]}},"y":{"field":"n","type":"quantitative","title":"Reported Cases","scale":{"domain":[-220,4615],"nice":false,"zero":false},"axis":{"values":[0,1000,2000,3000,4000],"format":"d","minExtent":20,"maxExtent":20}},"color":{"field":"age","type":"nominal","title":"Age group"}}},
{"title":"Southwest","data":{"name":"Southwest"},"width":125.5,"height":73,"mark":"bar","encoding":{"x":{"field":"date","type":"ordinal","sort":null,"title":"Date","axis":{"values":["May 19","Nov 19","May 20","Nov 20","May 21","Nov 21"]}},"y":{"field":"n","type":"quantitative","title":"Reported Cases","scale":{"domain":[-610,12800],"nice":false,"zero":false},"axis":{"values":[0,2500,5000,7500,10000,12500],"format":"d","minExtent":25,"maxExtent":25}},"color":{"field":"age","type":"nominal","title":"Age group"}}}
]}
]}
